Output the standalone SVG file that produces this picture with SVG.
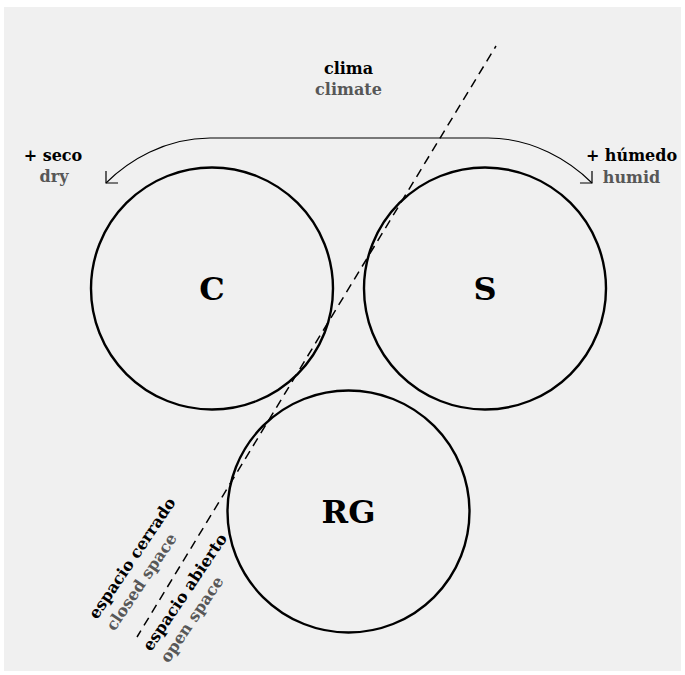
<svg xmlns="http://www.w3.org/2000/svg" width="685" height="675" viewBox="0 0 685 675">
  <defs>
    <style>
      .bg { fill: #f0f0f0; }
      .node { fill: none; stroke: #000; stroke-width: 2.4; }
      .big { font-family: "DejaVu Serif", "Liberation Serif", serif; font-weight: bold; font-size: 32px; fill: #000; text-anchor: middle; }
      .lbl { font-family: "DejaVu Serif", "Liberation Serif", serif; font-weight: bold; font-size: 16px; }
      .es { fill: #000; }
      .en { fill: #575757; }
      .mid { text-anchor: middle; }
      .arc { fill: none; stroke: #000; stroke-width: 1.1; }
      .divider { fill: none; stroke: #000; stroke-width: 1.5; stroke-dasharray: 9 6; stroke-dashoffset: 6; }
    </style>
    <!-- open L-shaped arrow tip, arms at 45 degrees to the path -->
    <marker id="tip" markerUnits="userSpaceOnUse" markerWidth="20" markerHeight="20" viewBox="-10 -10 20 20" refX="0" refY="0" orient="auto-start-reverse" overflow="visible">
      <path d="M -8.5 -8.5 L 0 0 L -8.5 8.5" fill="none" stroke="#000" stroke-width="1.2"/>
    </marker>
  </defs>

  <rect class="bg" x="4" y="7" width="677" height="664"/>

  <!-- connectors: climate arc and open/closed space divider -->
  <g id="connectors">
    <path class="arc" d="M 106 183 C 128 161, 165 138, 210 138 L 488 138 C 533 138, 570 161, 592 183" marker-start="url(#tip)" marker-end="url(#tip)"/>
    <line class="divider" x1="496" y1="46" x2="137" y2="637"/>
  </g>

  <g id="node-C">
    <circle class="node" cx="212" cy="288.5" r="121"/>
    <text class="big" x="212" y="299.5">C</text>
  </g>
  <g id="node-S">
    <circle class="node" cx="485" cy="288.5" r="121"/>
    <text class="big" x="485" y="299.5">S</text>
  </g>
  <g id="node-RG">
    <circle class="node" cx="348.5" cy="511.5" r="121"/>
    <text class="big" x="348.5" y="523">RG</text>
  </g>

  <g id="label-clima" class="lbl mid">
    <text class="es" x="348.5" y="74">clima</text>
    <text class="en" x="348.5" y="95">climate</text>
  </g>
  <g id="label-seco" class="lbl mid">
    <text class="es" x="53" y="161">+ seco</text>
    <text class="en" x="54" y="182">dry</text>
  </g>
  <g id="label-humedo" class="lbl mid">
    <text class="es" x="631.5" y="161">+ húmedo</text>
    <text class="en" x="631.5" y="183">humid</text>
  </g>
  <g id="label-cerrado" class="lbl" transform="translate(97 620) rotate(-56)">
    <text class="es" x="0" y="0">espacio cerrado</text>
    <text class="en" x="0" y="21">closed space</text>
  </g>
  <g id="label-abierto" class="lbl" transform="translate(151 652) rotate(-56)">
    <text class="es" x="0" y="0">espacio abierto</text>
    <text class="en" x="0" y="21">open space</text>
  </g>
</svg>
